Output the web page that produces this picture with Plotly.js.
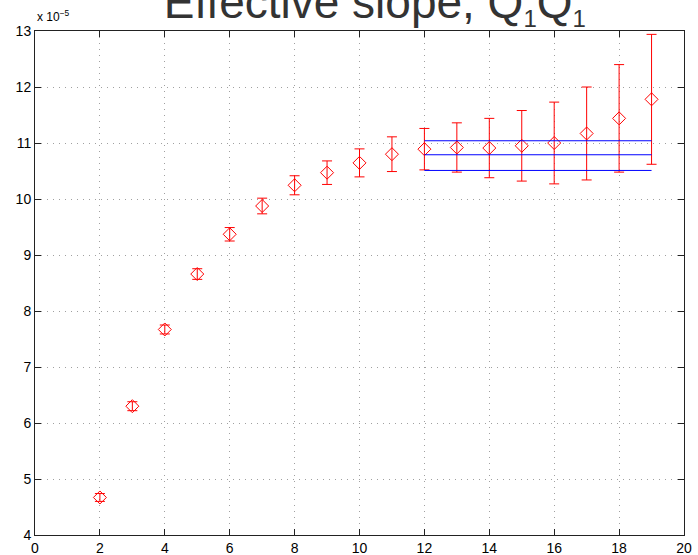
<!DOCTYPE html>
<html>
<head>
<meta charset="utf-8">
<script src="https://cdn.plot.ly/plotly-3.0.1.min.js"></script>
<style>
  html, body { margin: 0; padding: 0; background: #fff; }
  #chart { width: 698px; height: 555px; }
</style>
</head>
<body>
<div id="chart"></div>
<script>
// Values are in units of 1e-5 (axis multiplier "x 10^-5")
const timeSlices = [2, 3, 4, 5, 6, 7, 8, 9, 10, 11, 12, 13, 14, 15, 16, 17, 18, 19];
const slopeValues = [4.67, 6.30, 7.67, 8.66, 9.37, 9.875, 10.245, 10.47, 10.645, 10.80, 10.89, 10.92, 10.91, 10.95, 11.00, 11.17, 11.44, 11.78];
const slopeErrors = [0.07, 0.08, 0.08, 0.095, 0.12, 0.14, 0.17, 0.21, 0.25, 0.31, 0.37, 0.44, 0.53, 0.63, 0.73, 0.83, 0.96, 1.16];

const fitRange = [12, 19];
const fitCentral = [10.79, 10.79];
const fitUpper = [11.04, 11.04];
const fitLower = [10.51, 10.51];

const xTicks = [0, 2, 4, 6, 8, 10, 12, 14, 16, 18, 20];
const yTicks = [4, 5, 6, 7, 8, 9, 10, 11, 12, 13];

const font = 'Liberation Sans, Arial, Helvetica, sans-serif';

const traces = [
  {
    x: timeSlices, y: slopeValues, type: 'scatter', mode: 'markers',
    marker: { symbol: 'diamond-open', size: 10, color: '#ff0000', line: { color: '#ff0000', width: 1 } },
    error_y: { type: 'data', array: slopeErrors, visible: true, color: '#ff0000', thickness: 1, width: 5 },
    hoverinfo: 'skip', showlegend: false
  },
  { x: fitRange, y: fitUpper, type: 'scatter', mode: 'lines', line: { color: '#0000ff', width: 1 }, showlegend: false },
  { x: fitRange, y: fitCentral, type: 'scatter', mode: 'lines', line: { color: '#0000ff', width: 1 }, showlegend: false },
  { x: fitRange, y: fitLower, type: 'scatter', mode: 'lines', line: { color: '#0000ff', width: 1 }, showlegend: false }
];

const axisCommon = {
  showline: true, linecolor: '#222', linewidth: 1, mirror: 'ticks',
  ticks: 'inside', ticklen: 6, tickcolor: '#222', tickwidth: 1,
  showgrid: true, gridcolor: '#a0a0a0', gridwidth: 1, griddash: '1px,5px',
  zeroline: false, tickfont: { family: font, size: 14, color: '#000' }
};

const layout = {
  width: 698, height: 555,
  margin: { l: 35, r: 14, t: 31, b: 20, pad: 0 },
  paper_bgcolor: '#fff', plot_bgcolor: '#fff',
  title: {
    text: 'Effective slope, Q<sub><span style="font-size:24px">1</span></sub>Q<sub><span style="font-size:24px">1</span></sub>',
    font: { family: font, size: 46, color: '#333' },
    xref: 'container', x: 0.537, xanchor: 'center',
    yref: 'container', y: 0.997, yanchor: 'middle'
  },
  xaxis: Object.assign({}, axisCommon, { range: [0, 20], tickvals: xTicks, ticktext: xTicks.map(String) }),
  yaxis: Object.assign({}, axisCommon, { range: [4, 13], tickvals: yTicks, ticktext: yTicks.map(String) }),
  annotations: [{
    text: 'x 10<sup>−5</sup>', xref: 'paper', yref: 'paper',
    x: 0, y: 1.01, xanchor: 'left', yanchor: 'bottom', showarrow: false,
    font: { family: font, size: 12, color: '#000' }
  }]
};

Plotly.newPlot('chart', traces, layout, { staticPlot: true, displayModeBar: false });
</script>
</body>
</html>
